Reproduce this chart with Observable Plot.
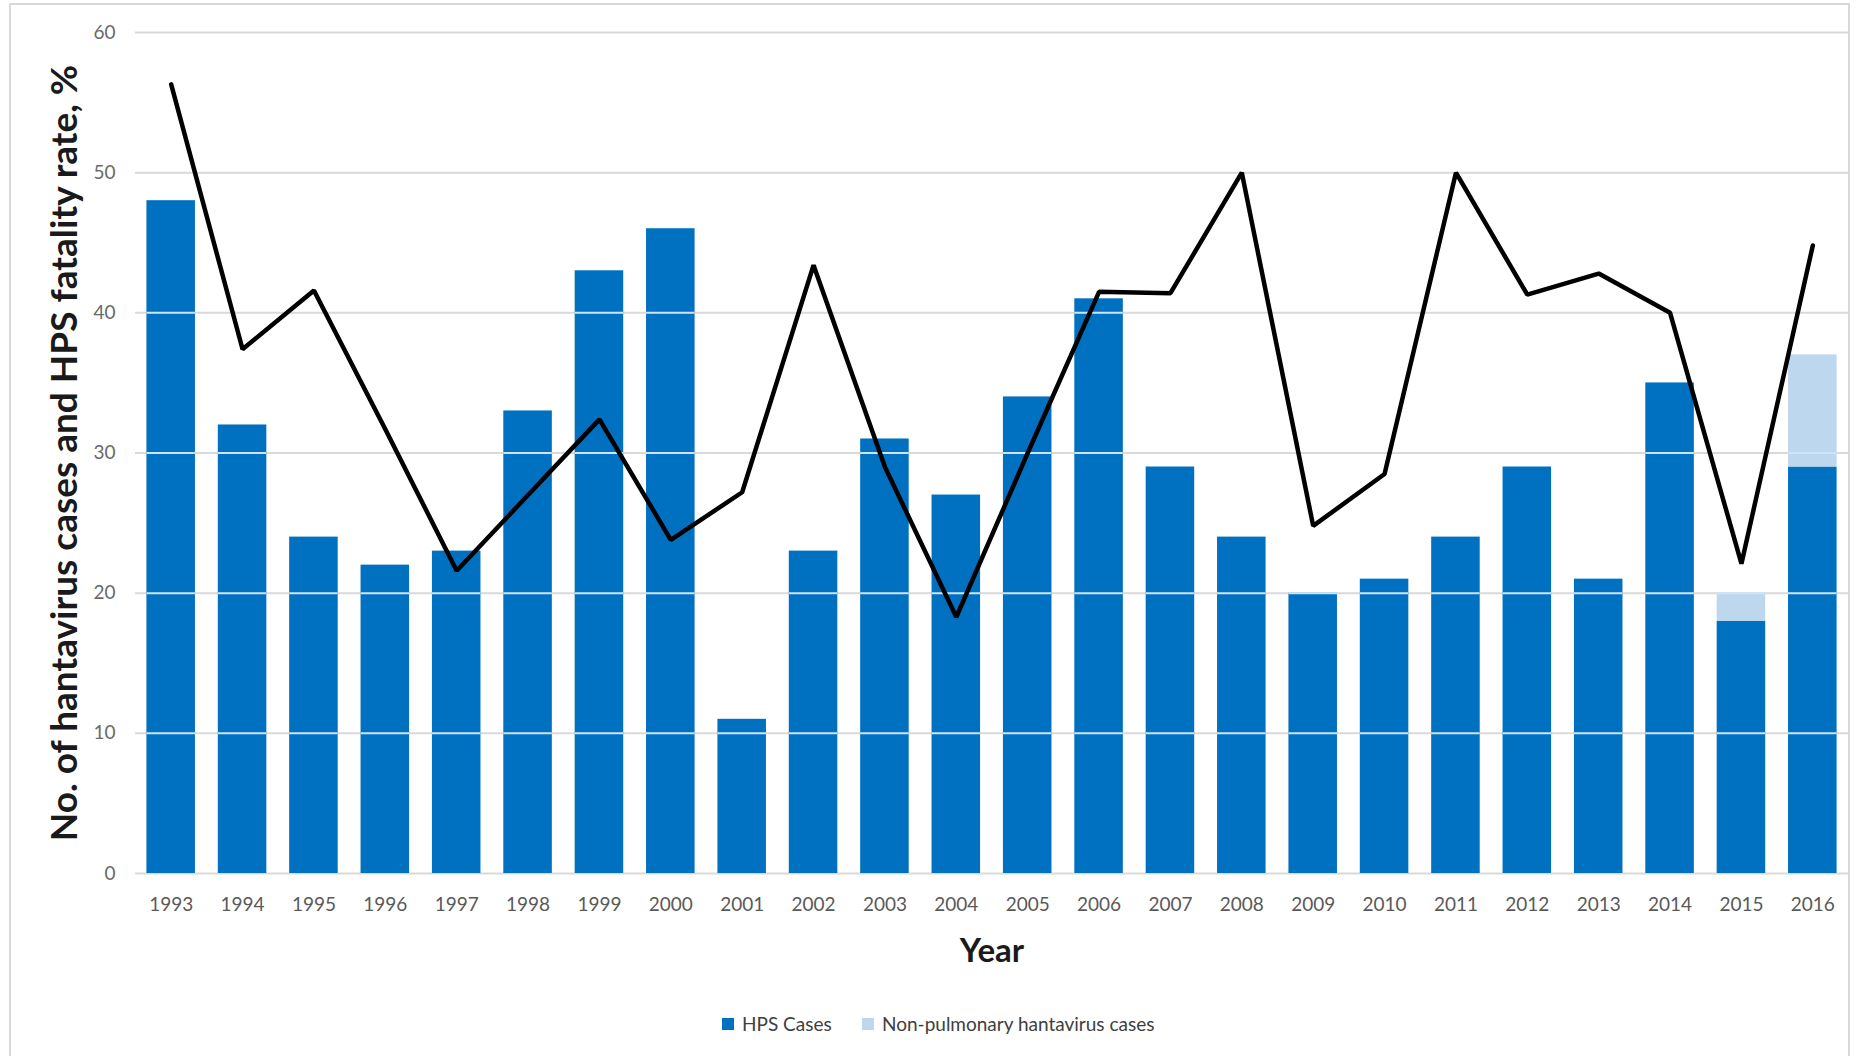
<!DOCTYPE html>
<html>
<head>
<meta charset="utf-8">
<script src="https://cdn.jsdelivr.net/npm/d3@7"></script>
<script src="https://cdn.jsdelivr.net/npm/@observablehq/plot@0.6"></script>
<style>
  html, body { margin: 0; padding: 0; background: #fff; }
  #wrap { position: relative; width: 1862px; height: 1056px; overflow: hidden; font-family: Lato, "Open Sans", sans-serif; }
  #frame { position: absolute; left: 9px; top: 3px; width: 1841px; height: 1060px; border: 2px solid #d9d9d9; box-sizing: border-box; }
  #chart { position: absolute; left: 0; top: 0; }
  #legend { position: absolute; top: 1012px; left: 0; height: 24px; width: 1862px; font-size: 19px; color: #404040; }
  .item { position: absolute; top: 0; height: 24px; line-height: 24px; white-space: nowrap; }
  .sw { position: absolute; top: 6px; width: 12px; height: 12px; }
</style>
</head>
<body>
<div id="wrap">
  <div id="frame"></div>
  <div id="chart"></div>
  <div id="legend"></div>
</div>
<script>
const years = ["1993","1994","1995","1996","1997","1998","1999","2000","2001","2002","2003","2004","2005","2006","2007","2008","2009","2010","2011","2012","2013","2014","2015","2016"];
const hpsCases = [48,32,24,22,23,33,43,46,11,23,31,27,34,41,29,24,20,21,24,29,21,35,18,29];
const nonPulmonaryCases = [0,0,0,0,0,0,0,0,0,0,0,0,0,0,0,0,0,0,0,0,0,0,2,8];
const fatalityRate = [56.3,37.4,41.6,31.7,21.6,27.0,32.4,23.8,27.2,43.4,29.0,18.3,30.0,41.5,41.4,50.0,24.8,28.5,50.0,41.3,42.8,40.0,22.1,44.8];
const yTicks = [0,10,20,30,40,50,60];
const seriesNames = ["HPS Cases","Non-pulmonary hantavirus cases"];
const yLabel = "No. of hantavirus cases and HPS fatality rate, %";
const xLabel = "Year";

const bars = [
  ...years.map((y, i) => ({year: y, series: seriesNames[0], value: hpsCases[i]})),
  ...years.map((y, i) => ({year: y, series: seriesNames[1], value: nonPulmonaryCases[i]}))
];
const totals = years.map((y, i) => hpsCases[i] + nonPulmonaryCases[i]);
const barGrid = [];
years.forEach((y, i) => yTicks.forEach(t => { if (t > 0 && t <= totals[i]) barGrid.push({year: y, v: t}); }));
const rate = years.map((y, i) => ({year: y, rate: fatalityRate[i]}));

const chart = Plot.plot({
  width: 1862,
  height: 983,
  marginLeft: 135,
  marginRight: 14,
  marginTop: 32,
  marginBottom: 110,
  style: {fontFamily: "Lato, 'Open Sans', sans-serif", background: "transparent"},
  x: {type: "band", domain: years, paddingInner: 0.32, paddingOuter: 0.16, round: false, label: null},
  y: {domain: [0, 60], ticks: yTicks, label: null},
  color: {domain: seriesNames, range: ["#0070C0", "#BDD7EE"]},
  marks: [
    Plot.gridY(yTicks, {stroke: "#d9d9d9", strokeOpacity: 1, strokeWidth: 2}),
    Plot.barY(bars, {x: "year", y: "value", fill: "series"}),
    Plot.tickY(barGrid, {x: "year", y: "v", stroke: "#cfe4f7", strokeWidth: 2}),
    Plot.line(rate, {x: "year", y: "rate", stroke: "#000", strokeWidth: 4.5, strokeLinejoin: "miter"}),
    Plot.axisY(yTicks, {tickSize: 0, tickPadding: 20, fontSize: 19, color: "#6a6a6a", label: null}),
    Plot.axisX({tickSize: 0, tickPadding: 24, fontSize: 19, color: "#595959", label: null}),
    Plot.text([yLabel], {frameAnchor: "left", dx: -70, rotate: -90, textAnchor: "middle", lineAnchor: "middle", fontSize: 37, fontWeight: "bold", fill: "#1a1a1a", text: d => d}),
    Plot.text([xLabel], {frameAnchor: "bottom", dy: 78, textAnchor: "middle", lineAnchor: "middle", fontSize: 33, fontWeight: "bold", fill: "#1a1a1a", text: d => d})
  ]
});
document.getElementById("chart").appendChild(chart);

const legend = document.getElementById("legend");
const legendColors = ["#0070C0", "#BDD7EE"];
const legendLeft = [722, 862];
seriesNames.forEach((name, i) => {
  const item = document.createElement("div");
  item.className = "item";
  item.style.left = legendLeft[i] + "px";
  const sw = document.createElement("span");
  sw.className = "sw";
  sw.style.left = "0px";
  sw.style.background = legendColors[i];
  const label = document.createElement("span");
  label.textContent = name;
  label.style.marginLeft = "20px";
  item.appendChild(sw);
  item.appendChild(label);
  legend.appendChild(item);
});
</script>
</body>
</html>
